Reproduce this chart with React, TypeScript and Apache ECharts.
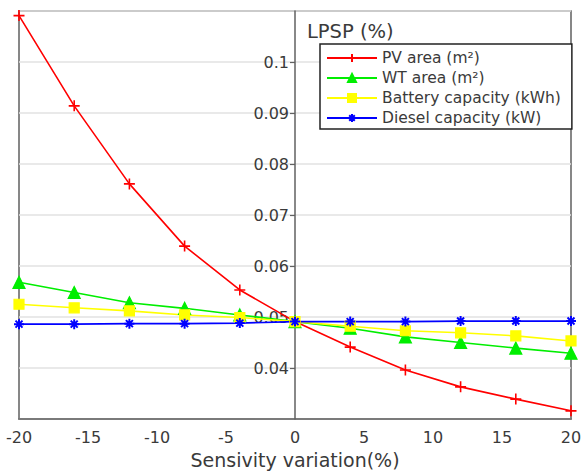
import React, { useEffect, useRef } from "react";
import * as echarts from "echarts";

const xValues = [-20, -16, -12, -8, -4, 0, 4, 8, 12, 16, 20];
const pvArea = [0.1091, 0.0914, 0.0761, 0.0639, 0.0553, 0.0491, 0.0441, 0.0396, 0.0363, 0.0339, 0.0316];
const wtArea = [0.0568, 0.0548, 0.0528, 0.0517, 0.0504, 0.0491, 0.0478, 0.0461, 0.045, 0.0439, 0.0429];
const batteryCap = [0.0525, 0.0518, 0.0512, 0.0504, 0.0499, 0.0491, 0.0482, 0.0473, 0.0469, 0.0463, 0.0453];
const dieselCap = [0.0486, 0.0486, 0.0487, 0.0487, 0.0488, 0.0491, 0.0491, 0.0491, 0.0492, 0.0492, 0.0492];
const seriesNames = ["PV area (m²)", "WT area (m²)", "Battery capacity (kWh)", "Diesel capacity (kW)"];
const xTitle = "Sensivity variation(%)";
const yTitle = "LPSP (%)";

const PLUS = "path://M5,0L5,10M0,5L10,5";
const STAR = "path://M5,0L5,10M0,5L10,5M1.5,1.5L8.5,8.5M8.5,1.5L1.5,8.5";

const FONT = "DejaVu Sans";
const FRAME = "#606060";
const TEXT = "#3a3a3a";

export default function App() {
  const ref = useRef<HTMLDivElement>(null);
  useEffect(() => {
    const chart = echarts.init(ref.current!, null, { renderer: "svg" });
    const mk = (name: string, vals: number[], color: string, symbol: string, size: number, bw: number) => ({
      name,
      type: "line",
      data: xValues.map((x, i) => [x, vals[i]]),
      symbol,
      symbolSize: size,
      showAllSymbol: true,
      lineStyle: { color, width: 1.6 },
      itemStyle: { color, borderColor: color, borderWidth: bw },
      emphasis: { disabled: true },
    });
    chart.setOption({
      animation: false,
      backgroundColor: "#fff",
      textStyle: { fontFamily: FONT },
      grid: {
        left: 19,
        right: 13,
        top: 11,
        bottom: 52,
        containLabel: false,
        outerBoundsMode: "none",
        show: true,
        borderColor: FRAME,
        borderWidth: 1.5,
        backgroundColor: "transparent",
      },
      graphic: [
        {
          type: "text",
          x: 307,
          y: 31,
          style: {
            text: yTitle,
            fontSize: 19.5,
            fontFamily: FONT,
            fill: TEXT,
            verticalAlign: "middle",
          },
          z: 100,
        },
      ],
      legend: {
        orient: "vertical",
        left: 320,
        top: 44,
        data: seriesNames,
        itemWidth: 50,
        itemHeight: 10,
        itemGap: 4,
        padding: [6, 11, 3, 6],
        borderColor: "#222",
        borderWidth: 1.5,
        borderRadius: 0,
        backgroundColor: "#fff",
        textStyle: { fontSize: 15.5, fontFamily: FONT, color: TEXT },
        z: 50,
      },
      xAxis: {
        type: "value",
        min: -20,
        max: 20,
        interval: 5,
        name: xTitle,
        nameLocation: "middle",
        nameGap: 31,
        nameTextStyle: { fontSize: 19, fontFamily: FONT, color: TEXT },
        axisLine: { show: true, lineStyle: { color: FRAME, width: 1.5 } },
        axisTick: { show: false },
        axisLabel: { fontSize: 16, fontFamily: FONT, color: TEXT, margin: 10 },
        splitLine: { show: false },
      },
      yAxis: {
        type: "value",
        min: 0.03,
        max: 0.11,
        interval: 0.01,
        offset: 0,
        axisLine: { show: true, onZero: false, lineStyle: { color: FRAME, width: 1.5 } },
        axisTick: { show: true, length: 5, lineStyle: { color: FRAME, width: 1.2 } },
        axisLabel: {
          fontSize: 16,
          fontFamily: FONT,
          color: TEXT,
          margin: 6,
          showMinLabel: false,
          showMaxLabel: false,
          formatter: (v: number) => String(parseFloat(v.toFixed(4))),
        },
        splitLine: { show: true, lineStyle: { color: "#e2e2e2", width: 1.5 } },
      },
      series: [
        mk(seriesNames[0], pvArea, "#ff0000", PLUS, 11, 1.6),
        mk(seriesNames[1], wtArea, "#00ee00", "triangle", 12, 1.2),
        mk(seriesNames[2], batteryCap, "#ffff00", "rect", 10, 1.2),
        mk(seriesNames[3], dieselCap, "#0000ff", STAR, 10, 2),
      ],
    });
    // place the y axis at x = 0 through the x scale
    const zeroPx = chart.convertToPixel({ xAxisIndex: 0 }, 0) as number;
    const leftPx = chart.convertToPixel({ xAxisIndex: 0 }, xValues[0]) as number;
    chart.setOption({ yAxis: { offset: -(zeroPx - leftPx) } });
    return () => chart.dispose();
  }, []);
  return <div ref={ref} style={{ width: 584, height: 471, position: "absolute", left: 0, top: 0 }} />;
}
